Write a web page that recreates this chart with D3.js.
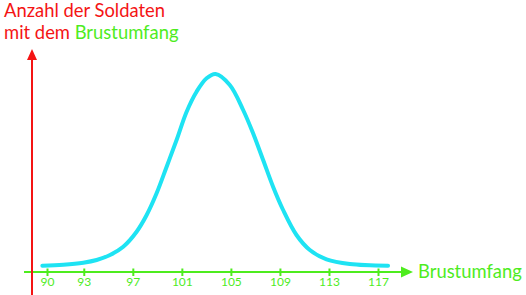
<!DOCTYPE html>
<html>
<head>
<meta charset="utf-8">
<script src="https://cdn.jsdelivr.net/npm/d3@7"></script>
<style>
  html, body { margin: 0; padding: 0; background: #ffffff; }
  svg { display: block; }
  text { font-family: Lato, "Open Sans", sans-serif; }
</style>
</head>
<body>
<svg id="chart" width="526" height="295"></svg>
<script>
// Chest circumference (Brustumfang) values along the curve
const chestValues = [89.62, 91.33, 92.96, 94.05, 95.14, 96.22, 97.31, 98.13, 98.94, 99.76,
  100.57, 101.39, 102.20, 103.02, 103.75, 104.91, 106.00, 106.81, 107.63, 108.44,
  109.26, 110.35, 111.44, 112.80, 114.70, 117.82];
// Number of soldiers (relative)
const soldierCounts = [6.3, 7.3, 9.3, 12, 17, 25.3, 40.3, 57, 78.7, 105.3,
  132, 160.3, 180.3, 193.7, 198, 187, 162, 138.7, 112, 85.3,
  62, 37, 22, 12.7, 8, 6.3];
const tickLabels = [90, 93, 97, 101, 105, 109, 113, 117];
const yTitleLine1 = "Anzahl der Soldaten";
const yTitleLine2a = "mit dem ";
const yTitleLine2b = "Brustumfang";
const xTitle = "Brustumfang";

const RED = "#f41414";
const GREEN = "#4eec1e";
const CYAN = "#1ee3f3";

const svg = d3.select("#chart");
const axisY = 272;
const x = d3.scaleLinear().domain([90, 117]).range([47, 378]);
const y = d3.scaleLinear().domain([0, 200]).range([axisY, 72]);

// Curve
const pts = chestValues.map((v, i) => [v, soldierCounts[i]]);
const lineGen = d3.line()
  .x(d => x(d[0]))
  .y(d => y(d[1]))
  .curve(d3.curveCatmullRom.alpha(0.5));
svg.append("path")
  .datum(pts)
  .attr("fill", "none")
  .attr("stroke", CYAN)
  .attr("stroke-width", 4)
  .attr("stroke-linecap", "round")
  .attr("d", lineGen);

// X axis (green)
const gx = svg.append("g").attr("transform", `translate(0,${axisY})`)
  .call(d3.axisBottom(x).tickValues(tickLabels).tickSize(0).tickPadding(0));
gx.select(".domain").remove();
gx.selectAll(".tick line")
  .attr("y1", -3.5).attr("y2", 4)
  .attr("stroke", GREEN).attr("stroke-width", 2);
gx.selectAll(".tick text")
  .attr("y", 14).attr("dy", "0")
  .attr("fill", GREEN)
  .style("font-size", "12px")
  .style("font-family", "Lato, 'Open Sans', sans-serif");

svg.append("line")
  .attr("x1", 24).attr("x2", 403)
  .attr("y1", axisY).attr("y2", axisY)
  .attr("stroke", GREEN).attr("stroke-width", 2);
svg.append("path")
  .attr("d", `M401,${axisY - 5.5} L413,${axisY} L401,${axisY + 5.5} Z`)
  .attr("fill", GREEN);

// Y axis (red)
svg.append("line")
  .attr("x1", 32).attr("x2", 32)
  .attr("y1", 295).attr("y2", 58)
  .attr("stroke", RED).attr("stroke-width", 2);
svg.append("path")
  .attr("d", `M27,60 L32,49 L37,60 Z`)
  .attr("fill", RED);

// Titles
svg.append("text")
  .attr("x", 4).attr("y", 17)
  .attr("fill", RED)
  .style("font-size", "18.4px")
  .text(yTitleLine1);
const t2 = svg.append("text")
  .attr("x", 4).attr("y", 39)
  .style("font-size", "18.4px");
t2.append("tspan").attr("fill", RED).text(yTitleLine2a);
t2.append("tspan").attr("fill", GREEN).text(yTitleLine2b);

svg.append("text")
  .attr("x", 418).attr("y", 278)
  .attr("fill", GREEN)
  .style("font-size", "18.4px")
  .text(xTitle);
</script>
</body>
</html>
